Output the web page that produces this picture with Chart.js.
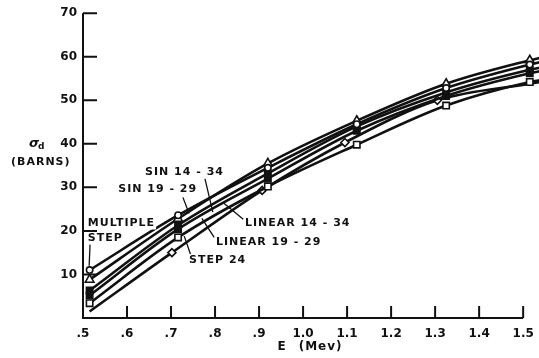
<!DOCTYPE html>
<html>
<head>
<meta charset="utf-8">
<script src="https://cdn.jsdelivr.net/npm/chart.js@4/dist/chart.umd.min.js"></script>
<style>
  body { margin: 0; background: #fff; }
  #wrap { width: 539px; height: 358px; position: relative; }
</style>
</head>
<body>
<div id="wrap"><canvas id="sigmaChart"></canvas></div>
<script>
// energies (Mev) where the curves were plotted; the last one is where lines leave the frame
const energies = [0.515, 0.716, 0.92, 1.122, 1.325, 1.515, 1.545];
const energiesLow = [0.515, 0.702, 0.907, 1.095, 1.305, 1.515, 1.545];

// sigma_d (barns)
const multipleStep = [11.0, 23.6, 34.5, 44.5, 52.8, 58.2, 58.9];
const sin1434 = [8.8, 22.8, 35.5, 45.3, 53.8, 59.2, 59.9];
const sin1929 = [6.3, 21.3, 33.2, 44.0, 51.8, 57.0, 57.6];
const linear1434 = [5.2, 20.4, 32.0, 43.0, 51.0, 56.2, 56.8];
const step24 = [3.4, 18.5, 30.2, 39.8, 48.8, 54.2, 54.7];
const linear1929 = [1.5, 15.0, 29.3, 40.3, 50.0, 53.8, 54.3];

const xTickValues = [0.5, 0.6, 0.7, 0.8, 0.9, 1.0, 1.1, 1.2, 1.3, 1.4, 1.5];
const xTickLabels = ['.5', '.6', '.7', '.8', '.9', '1.0', '1.1', '1.2', '1.3', '1.4', '1.5'];
const yTickValues = [10, 20, 30, 40, 50, 60, 70];

const INK = '#111';
const FONT = '"DejaVu Sans", sans-serif';

function pts(xs, ys) {
    return ys.map((y, i) => ({ x: xs[i], y: y }));
}

function series(label, xs, ys, style, radius, filled, shown) {
    return {
        label: label,
        data: pts(xs, ys),
        borderColor: INK,
        borderWidth: 2.6,
        cubicInterpolationMode: 'monotone',
        pointStyle: style,
        pointRadius: ys.map((v, i) => shown[i] ? radius : 0),
        pointBorderColor: INK,
        pointBorderWidth: 1.6,
        pointBackgroundColor: filled ? INK : '#fff'
    };
}

const mark = [1, 1, 1, 1, 1, 1, 0];
const markLow = [0, 1, 1, 1, 1, 0, 0];

// text notes placed in data space: [text, E, sigma]
const notes = [
    ['SIN 14 - 34', 0.641, 33.4],
    ['SIN 19 - 29', 0.58, 29.5],
    ['LINEAR 14 - 34', 0.868, 21.7],
    ['LINEAR 19 - 29', 0.802, 17.4],
    ['STEP 24', 0.741, 13.3],
    ['MULTIPLE', 0.511, 21.7],
    ['STEP', 0.511, 18.3]
];
// leader lines: [E1, s1, E2, s2]
const leaders = [
    [0.777, 32.0, 0.795, 24.3],
    [0.727, 27.7, 0.741, 24.0],
    [0.864, 22.7, 0.818, 26.5],
    [0.798, 18.5, 0.770, 22.9],
    [0.745, 14.4, 0.730, 18.8],
    [0.516, 16.9, 0.514, 12.0]
];

const paperAxes = {
    id: 'paperAxes',
    afterDatasetsDraw(chart) {
        const c = chart.ctx;
        const xs = chart.scales.x, ys = chart.scales.y;
        const x0 = xs.getPixelForValue(0.5), x1 = xs.getPixelForValue(1.5);
        const y0 = ys.getPixelForValue(0), y1 = ys.getPixelForValue(70);
        c.save();
        c.strokeStyle = INK;
        c.lineWidth = 2;
        c.beginPath();
        c.moveTo(x0, y1); c.lineTo(x0, y0); c.lineTo(x1, y0);
        yTickValues.forEach(v => {
            const y = ys.getPixelForValue(v);
            c.moveTo(x0, y); c.lineTo(x0 + 14, y);
        });
        xTickValues.slice(1).forEach(v => {
            const x = xs.getPixelForValue(v);
            c.moveTo(x, y0); c.lineTo(x, y0 - 12);
        });
        c.stroke();

        c.lineWidth = 1.3;
        c.beginPath();
        leaders.forEach(l => {
            c.moveTo(xs.getPixelForValue(l[0]), ys.getPixelForValue(l[1]));
            c.lineTo(xs.getPixelForValue(l[2]), ys.getPixelForValue(l[3]));
        });
        c.stroke();

        c.fillStyle = INK;
        c.textBaseline = 'middle';
        c.textAlign = 'left';
        c.font = 'bold 11px ' + FONT;
        c.letterSpacing = '1px';
        notes.forEach(n => {
            const x = xs.getPixelForValue(n[1]), y = ys.getPixelForValue(n[2]);
            c.fillStyle = '#fff';
            c.fillRect(x - 1, y - 6, c.measureText(n[0]).width + 2, 12);
            c.fillStyle = INK;
            c.fillText(n[0], x, y);
        });

        // axis titles
        c.font = 'bold 12px ' + FONT;
        c.fillText('E', xs.getPixelForValue(0.942), y0 + 29);
        c.fillText('(Mev)', xs.getPixelForValue(0.99), y0 + 29);
        c.font = 'italic bold 13px ' + FONT;
        const ys40 = ys.getPixelForValue(40);
        c.fillText('σ', 29, ys40);
        c.font = 'bold 9px ' + FONT;
        c.fillText('d', 38, ys40 + 3);
        c.font = 'bold 11px ' + FONT;
        c.fillText('(BARNS)', 11, ys40 + 18);
        c.restore();
    }
};

new Chart(document.getElementById('sigmaChart').getContext('2d'), {
    type: 'line',
    data: {
        datasets: [
            series('MULTIPLE STEP', energies, multipleStep, 'circle', 3.2, false, mark),
            series('SIN 14-34', energies, sin1434, 'triangle', 5, false, mark),
            series('SIN 19-29', energies, sin1929, 'rect', 4.5, true, mark),
            series('LINEAR 14-34', energies, linear1434, 'rect', 4.5, true, mark),
            series('STEP 24', energies, step24, 'rect', 4.5, false, mark),
            series('LINEAR 19-29', energiesLow, linear1929, 'rectRot', 4, false, markLow)
        ]
    },
    options: {
        responsive: true,
        maintainAspectRatio: false,
        devicePixelRatio: 1,
        animation: false,
        layout: { autoPadding: false, padding: { top: 12, right: 0, bottom: 0, left: 0 } },
        plugins: { legend: { display: false }, tooltip: { enabled: false } },
        scales: {
            x: {
                type: 'linear',
                min: 0.5,
                max: 1.536,
                grid: { display: false, drawTicks: false },
                border: { display: false },
                afterBuildTicks: s => { s.ticks = xTickValues.map(v => ({ value: v })); },
                afterFit: s => { s.height = 40; s.paddingLeft = 0; s.paddingRight = 0; },
                ticks: {
                    padding: 9,
                    color: INK,
                    font: { family: FONT, weight: 'bold', size: 12 },
                    maxRotation: 0,
                    autoSkip: false,
                    callback: (v, i) => xTickLabels[i]
                }
            },
            y: {
                min: 0,
                max: 70,
                grid: { display: false, drawTicks: false },
                border: { display: false },
                afterFit: s => { s.width = 83; },
                ticks: {
                    stepSize: 10,
                    padding: 6,
                    color: INK,
                    font: { family: FONT, weight: 'bold', size: 12 },
                    callback: v => v === 0 ? '' : String(v)
                }
            }
        }
    },
    plugins: [paperAxes]
});
</script>
</body>
</html>
